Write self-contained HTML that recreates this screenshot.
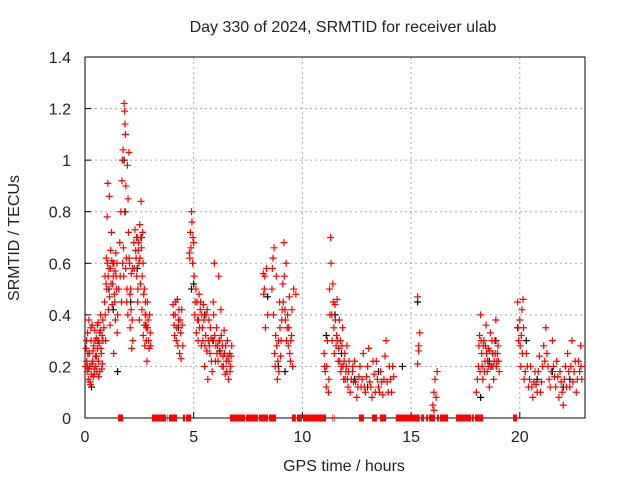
<!DOCTYPE html>
<html><head><meta charset="utf-8"><style>
body{margin:0;background:#fff;}
svg text{font-family:"Liberation Sans",sans-serif;font-size:16px;fill:#222;}
</style></head><body>
<svg id="chart" width="640" height="480" xmlns="http://www.w3.org/2000/svg">
<rect width="640" height="480" fill="#fff"/>
<g id="grid"></g>
<g id="axes"></g>
<g id="marks"></g>
<text x="343" y="32" text-anchor="middle">Day 330 of 2024, SRMTID for receiver ulab</text>
<text x="344" y="471" text-anchor="middle">GPS time / hours</text>
<text transform="translate(19,238) rotate(-90)" text-anchor="middle">SRMTID / TECUs</text>
</svg>
<script>
const xTicks=[0,5,10,15,20];
const yTicks=[0,0.2,0.4,0.6,0.8,1,1.2,1.4];
const yTickLabels=["0","0.2","0.4","0.6","0.8","1","1.2","1.4"];
const redT=[0.05,0.08,0.1,0.12,0.15,0.18,0.2,0.22,0.25,0.28,0.3,0.33,0.35,0.38,0.4,0.42,0.45,0.48,0.5,0.52,0.55,0.58,0.6,0.62,0.65,0.68,0.7,0.72,0.75,0.78,0.8,0.82,
0.9,0.92,0.95,0.98,1.0,1.02,1.05,1.08,1.1,1.12,1.15,1.18,1.2,1.22,1.25,1.28,1.3,1.32,1.35,1.38,1.4,1.42,1.45,1.48,
1.6,1.65,1.7,1.72,1.75,1.78,1.8,1.82,1.84,1.86,1.88,1.9,1.92,1.95,1.98,2.0,2.02,2.05,2.08,2.1,2.12,2.15,2.18,2.2,
2.25,2.3,2.35,2.38,2.4,2.42,2.45,2.48,2.5,2.52,2.55,2.58,2.6,2.62,2.65,2.68,2.7,2.72,2.75,2.78,2.8,2.82,2.85,2.88,2.9,2.95,3.0,
4.05,4.1,4.15,4.2,4.25,4.3,4.35,4.4,4.45,4.5,
4.8,4.85,4.9,4.92,4.95,5.0,5.02,5.05,5.1,5.12,5.15,5.2,5.22,5.25,5.3,5.35,5.4,5.45,5.5,5.55,5.6,
5.62,5.65,5.7,5.75,5.8,5.85,5.9,5.95,6.0,6.05,6.1,6.15,6.2,6.25,6.3,6.35,6.4,6.45,6.5,6.55,6.6,6.65,6.7,6.75,
8.2,8.25,8.3,8.35,8.4,8.6,8.65,8.7,8.75,8.8,8.85,8.9,8.95,9.0,9.05,9.1,9.15,9.2,9.25,9.3,9.35,9.4,9.45,9.5,9.55,9.6,9.7,
11.0,11.05,11.1,11.15,11.2,11.25,11.3,11.32,11.35,11.4,11.45,11.5,11.55,11.6,11.65,11.7,11.75,11.8,11.85,11.9,11.95,12.0,12.05,12.1,12.15,
12.2,12.3,12.35,12.4,12.5,12.6,12.7,12.8,12.9,13.0,13.05,13.1,13.2,13.3,13.4,13.5,13.6,13.7,13.8,13.85,13.9,14.0,14.1,14.2,
15.3,15.35,15.4,15.3,15.35,16.0,16.05,16.1,16.15,16.2,16.05,
18.0,18.1,18.15,18.2,18.25,18.3,18.35,18.4,18.45,18.5,18.55,18.6,18.65,18.7,18.75,18.8,18.85,18.9,18.95,19.0,19.05,
19.9,19.95,20.0,20.05,20.1,20.15,20.2,20.3,20.4,20.5,20.6,20.7,20.8,20.9,21.0,21.1,21.2,21.3,21.4,21.5,21.6,21.7,21.8,21.9,22.0,22.1,22.2,22.3,22.4,22.5,22.6,22.7,22.8,22.85];
const redV=[0.27,0.22,0.18,0.33,0.15,0.38,0.25,0.2,0.13,0.3,0.17,0.36,0.22,0.16,0.28,0.19,0.34,0.24,0.2,0.31,0.18,0.27,0.37,0.22,0.29,0.18,0.34,0.4,0.25,0.32,0.21,0.38,
0.45,0.55,0.3,0.62,0.5,0.78,0.91,0.42,0.58,0.86,0.36,0.65,0.52,0.72,0.44,0.6,0.55,0.25,0.48,0.57,0.38,0.64,0.5,0.33,
0.68,0.8,0.92,1.0,1.04,0.55,1.22,1.19,1.14,1.1,0.9,0.62,0.45,0.98,0.85,0.72,1.03,0.6,0.35,0.5,0.42,0.27,0.58,0.3,
0.68,0.73,0.62,0.55,0.7,0.45,0.65,0.6,0.38,0.75,0.52,0.84,0.66,0.42,0.72,0.32,0.48,0.36,0.28,0.45,0.4,0.3,0.22,0.35,0.38,0.27,0.33,
0.44,0.36,0.4,0.3,0.46,0.38,0.25,0.33,0.42,0.28,
0.64,0.72,0.8,0.76,0.6,0.68,0.55,0.4,0.5,0.33,0.45,0.3,0.38,0.48,0.42,0.28,0.35,0.44,0.2,0.32,0.26,
0.42,0.15,0.38,0.25,0.31,0.18,0.45,0.6,0.22,0.35,0.28,0.55,0.3,0.42,0.2,0.24,0.34,0.17,0.22,0.3,0.15,0.25,0.2,0.28,
0.56,0.5,0.35,0.58,0.4,0.5,0.62,0.66,0.2,0.55,0.15,0.3,0.45,0.24,0.38,0.52,0.68,0.42,0.6,0.35,0.28,0.47,0.22,0.32,0.2,0.5,0.48,
0.25,0.18,0.12,0.3,0.1,0.5,0.7,0.6,0.4,0.52,0.35,0.44,0.28,0.46,0.22,0.38,0.3,0.2,0.35,0.15,0.25,0.18,0.28,0.12,0.22,
0.1,0.18,0.14,0.22,0.08,0.16,0.12,0.25,0.1,0.2,0.27,0.14,0.08,0.17,0.22,0.12,0.18,0.09,0.24,0.3,0.14,0.2,0.1,0.16,
0.47,0.28,0.33,0.21,0.26,0.05,0.1,0.15,0.08,0.18,0.03,
0.1,0.2,0.32,0.4,0.25,0.15,0.3,0.22,0.36,0.18,0.27,0.12,0.33,0.2,0.25,0.15,0.3,0.38,0.22,0.28,0.18,
0.45,0.3,0.38,0.2,0.42,0.46,0.15,0.25,0.12,0.2,0.08,0.18,0.1,0.24,0.14,0.28,0.35,0.2,0.12,0.3,0.16,0.22,0.08,0.14,0.05,0.2,0.25,0.12,0.3,0.18,0.1,0.22,0.28,0.15];
const redT2=[0.02,0.07,0.13,0.17,0.23,0.27,0.32,0.37,0.43,0.47,0.53,0.57,0.63,0.67,0.73,0.77,0.83,0.87,
0.93,0.97,1.03,1.07,1.13,1.17,1.23,1.27,1.33,1.37,1.43,1.47,1.5,1.55,
1.62,1.68,1.73,1.77,1.83,1.87,1.93,1.97,2.03,2.07,2.13,2.17,
2.27,2.33,2.37,2.43,2.47,2.53,2.57,2.63,2.67,2.73,2.77,2.83,2.87,2.93,2.97,3.02,
4.07,4.12,4.17,4.22,4.27,4.32,4.37,4.42,4.47,
4.82,4.87,4.97,5.07,5.17,5.27,5.32,5.37,5.42,5.47,5.52,5.57,
5.67,5.72,5.77,5.82,5.87,5.92,5.97,6.02,6.07,6.12,6.17,6.22,6.27,6.32,6.37,6.42,6.47,6.52,6.57,6.62,6.67,6.72,
8.22,8.27,8.62,8.67,8.72,8.77,8.82,8.87,8.92,8.97,9.02,9.07,9.12,9.17,9.22,9.27,9.32,9.37,9.42,9.47,9.52,
11.02,11.12,11.22,11.27,11.37,11.42,11.47,11.52,11.57,11.62,11.67,11.72,11.77,11.82,11.87,11.92,11.97,12.02,12.07,12.12,
12.25,12.32,12.45,12.55,12.65,12.75,12.85,12.95,13.15,13.25,13.35,13.45,13.55,13.65,13.75,13.95,14.05,14.15,
18.05,18.12,18.17,18.22,18.27,18.32,18.37,18.42,18.47,18.52,18.57,18.62,18.67,18.72,18.77,18.82,18.87,18.92,18.97,19.02,
19.92,20.02,20.07,20.12,20.17,20.25,20.35,20.45,20.55,20.65,20.75,20.85,20.95,21.05,21.15,21.25,21.35,21.45,21.55,21.65,21.75,21.85,21.95,22.05,22.15,22.25,22.35,22.45,22.55,22.65,22.75,22.82];
const redV2=[0.2,0.3,0.25,0.19,0.14,0.35,0.21,0.26,0.17,0.3,0.24,0.36,0.16,0.33,0.27,0.19,0.3,0.35,
0.4,0.52,0.6,0.55,0.47,0.58,0.61,0.52,0.6,0.45,0.55,0.6,0.4,0.5,
0.55,0.45,0.6,0.66,0.8,0.58,0.5,0.4,0.62,0.48,0.56,0.38,
0.58,0.65,0.7,0.5,0.68,0.62,0.7,0.55,0.6,0.5,0.4,0.35,0.45,0.3,0.4,0.28,
0.4,0.32,0.45,0.35,0.28,0.42,0.38,0.23,0.36,
0.62,0.66,0.7,0.45,0.38,0.35,0.45,0.4,0.3,0.38,0.28,0.4,
0.3,0.28,0.35,0.22,0.3,0.4,0.32,0.28,0.25,0.22,0.3,0.25,0.32,0.28,0.2,0.25,0.28,0.18,0.24,0.22,0.18,0.24,
0.48,0.55,0.58,0.4,0.25,0.32,0.28,0.22,0.18,0.35,0.3,0.42,0.45,0.55,0.38,0.3,0.4,0.35,0.25,0.3,0.42,
0.2,0.2,0.15,0.4,0.3,0.45,0.25,0.38,0.32,0.3,0.27,0.22,0.18,0.28,0.2,0.22,0.15,0.2,0.15,0.18,
0.15,0.2,0.14,0.12,0.2,0.15,0.12,0.16,0.12,0.22,0.1,0.15,0.1,0.14,0.15,0.1,0.15,0.2,
0.15,0.28,0.18,0.3,0.2,0.28,0.18,0.28,0.25,0.22,0.2,0.26,0.2,0.3,0.2,0.22,0.25,0.2,0.25,0.22,
0.35,0.28,0.32,0.25,0.35,0.18,0.2,0.15,0.12,0.14,0.13,0.18,0.1,0.2,0.22,0.25,0.15,0.18,0.2,0.12,0.16,0.18,0.1,0.15,0.12,0.18,0.2,0.14,0.22,0.15,0.18,0.2];
const blackT=[0.1,0.3,0.6,1.1,1.3,1.5,1.8,1.85,2.1,2.4,2.6,2.8,4.3,4.9,5.0,5.5,5.9,6.2,8.4,8.9,9.2,11.1,11.5,11.8,12.4,13.0,13.5,14.6,15.3,18.2,18.6,18.9,19.9,20.3,20.8,21.5,22.0,22.3];
const blackV=[0.2,0.12,0.3,0.5,0.42,0.18,1.0,0.8,0.45,0.58,0.7,0.36,0.35,0.5,0.52,0.4,0.3,0.26,0.47,0.2,0.18,0.32,0.4,0.25,0.15,0.12,0.18,0.2,0.45,0.08,0.22,0.3,0.35,0.3,0.15,0.18,0.12,0.15];
const zeroStart=[1.52,3.08,3.77,3.86,4.5,4.65,6.67,7.41,8.0,8.46,9.52,9.75,10.03,11.36,11.45,12.6,13.2,13.57,14.3,15.46,15.69,15.82,16.19,16.33,17.07,17.8,17.94,19.69];
const zeroEnd=[1.75,3.73,3.8,4.23,4.6,4.88,7.36,7.96,8.42,8.79,9.7,9.98,11.09,11.39,11.48,12.83,13.43,13.85,15.4,15.6,15.78,16.1,16.28,16.7,17.76,17.89,18.31,19.87];
const NS="http://www.w3.org/2000/svg";
const X0=85,X1=585,Y0=418,Y1=57,XMAX=23,YMAX=1.4;
const xs=t=>X0+(X1-X0)*t/XMAX, ys=v=>Y0-(Y0-Y1)*v/YMAX;
function mk(tag,attrs,parent){const e=document.createElementNS(NS,tag);for(const k in attrs)e.setAttribute(k,attrs[k]);parent.appendChild(e);return e;}
const grid=document.getElementById('grid'),axes=document.getElementById('axes'),marks=document.getElementById('marks');
xTicks.forEach(t=>{const x=xs(t);
 if(t>0){const l=mk('line',{x1:x,x2:x,y1:Y1,y2:Y0,stroke:'#aaa','stroke-dasharray':'2,3'},grid);
 
 }
 const tk=mk('line',{x1:x,x2:x,y1:Y0,y2:Y0-6,stroke:'#000'},axes);
 
 
 const tx=mk('text',{x:x,y:Y0+24,'text-anchor':'middle'},axes);tx.textContent=t;
 
 });
yTicks.forEach((v,i)=>{const y=ys(v);
 if(v>0&&v<YMAX){const l=mk('line',{x1:X0,x2:X1,y1:y,y2:y,stroke:'#aaa','stroke-dasharray':'2,3'},grid);
 
 }
 const tk=mk('line',{x1:X0,x2:X0+6,y1:y,y2:y,stroke:'#000'},axes);
 
 
 const tx=mk('text',{x:X0-14,y:y+6,'text-anchor':'end'},axes);tx.textContent=yTickLabels[i];
 
 });
const frame=mk('rect',{x:X0,y:Y1,width:X1-X0,height:Y0-Y1,fill:'none',stroke:'#000'},axes);


function plus(t,v,col,name){const x=xs(t),y=ys(v);
 const p=mk('path',{d:`M${x-3.5},${y}H${x+3.5}M${x},${y-3.5}V${y+3.5}`,stroke:col,'stroke-width':1.2,fill:'none'},marks);
 
 }
blackT.forEach((t,i)=>plus(t,blackV[i],'#000','black-point'));
redT.forEach((t,i)=>plus(t,redV[i],'#f00','red-point'));
redT2.forEach((t,i)=>plus(t,redV2[i],'#f00','red-point'));
zeroStart.forEach((s,i)=>{const x=xs(s);
 const r=mk('rect',{x:x,y:ys(0)-3.5,width:xs(zeroEnd[i])-x,height:7,fill:'#f00'},marks);
 
 });
</script>
</body></html>
